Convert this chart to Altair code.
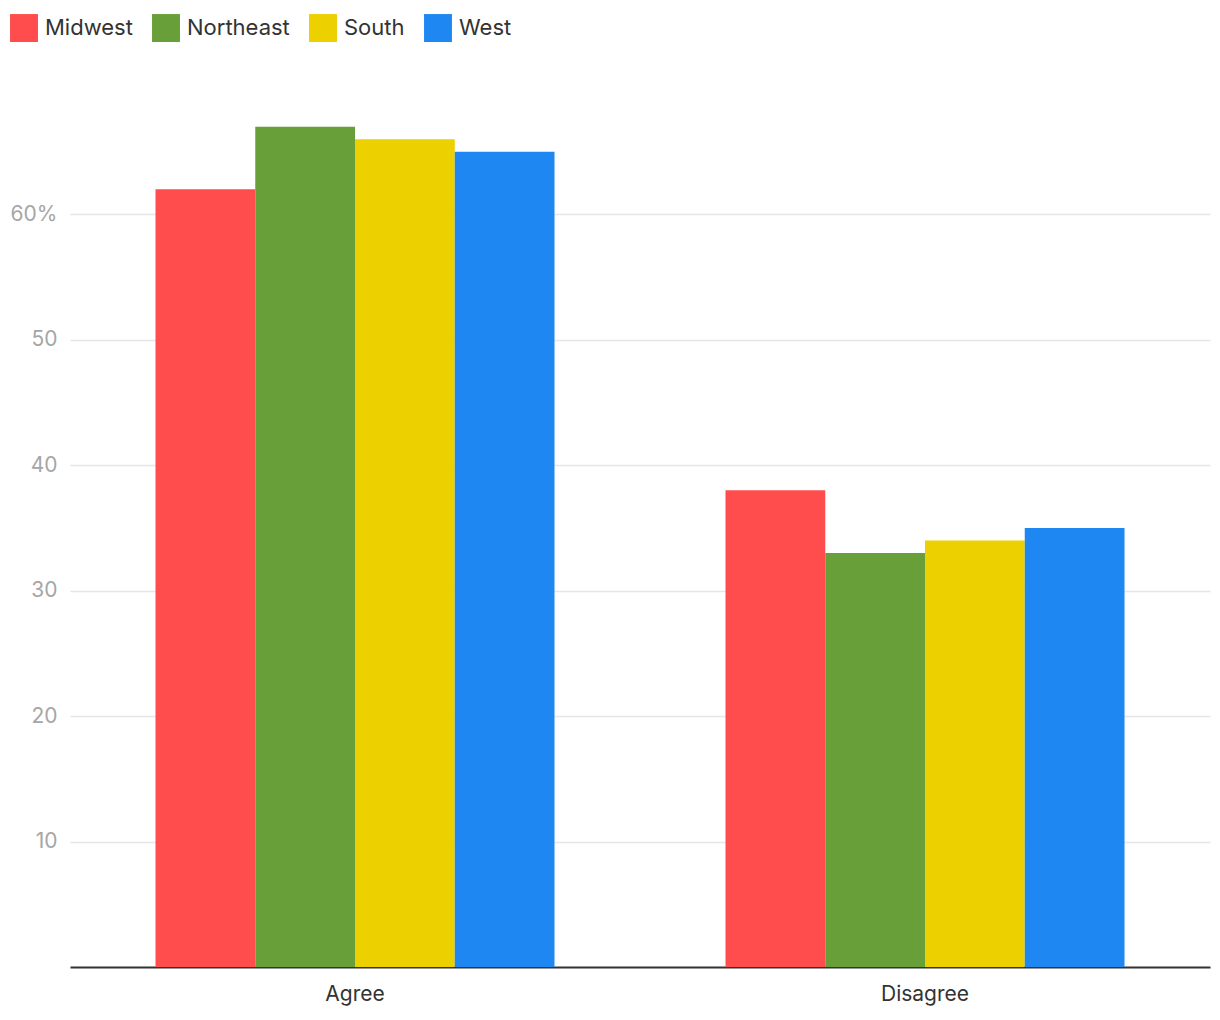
import altair as alt
import pandas as pd

responses = ["Agree", "Disagree"]
regions = ["Midwest", "Northeast", "South", "West"]
agree_vals = [62, 67, 66, 65]
disagree_vals = [38, 33, 34, 35]
colors = ["#ff4d4d", "#689f38", "#ecd000", "#1e87f2"]
y_ticks = [10, 20, 30, 40, 50, 60]

rows = []
for i, r in enumerate(regions):
    rows.append({"response": "Agree", "region": r, "value": agree_vals[i]})
    rows.append({"response": "Disagree", "region": r, "value": disagree_vals[i]})
df = pd.DataFrame(rows)

FONT = "Inter"

chart = alt.Chart(df).mark_bar().encode(
    x=alt.X("response:N", sort=responses, title=None,
            scale=alt.Scale(paddingInner=0.3, paddingOuter=0.15),
            axis=alt.Axis(labelAngle=0, labelFontSize=21, labelColor="#333333",
                          labelFont=FONT, labelPadding=16, ticks=False,
                          domainColor="#333333", domainWidth=2, grid=False)),
    xOffset=alt.XOffset("region:N", sort=regions, scale=alt.Scale(paddingInner=0, paddingOuter=0)),
    y=alt.Y("value:Q", title=None,
            scale=alt.Scale(domain=[0, 70], nice=False),
            axis=alt.Axis(values=y_ticks, labelFontSize=21, labelColor="#a6a6a6",
                          labelFont=FONT, labelPadding=13, ticks=False, domain=False,
                          gridColor="#e6e6e6", gridWidth=1.5,
                          labelExpr="datum.value == 60 ? '60%' : datum.label")),
    color=alt.Color("region:N", sort=regions,
                    scale=alt.Scale(domain=regions, range=colors),
                    legend=alt.Legend(title=None, orient="none", legendX=-60, legendY=-75,
                                      direction="horizontal", columns=4,
                                      symbolType="square", symbolSize=780,
                                      symbolStrokeWidth=0, symbolOpacity=1,
                                      labelFontSize=22, labelColor="#333333",
                                      labelFont=FONT, labelOffset=7, columnPadding=19)),
).properties(
    width=1140, height=878,
    padding={"left": 70, "top": 89, "right": 10, "bottom": 53},
    autosize=alt.AutoSizeParams(type="none"),
).configure_view(stroke=None)

chart.save("out.html", embed_options={"renderer": "svg", "actions": False})
